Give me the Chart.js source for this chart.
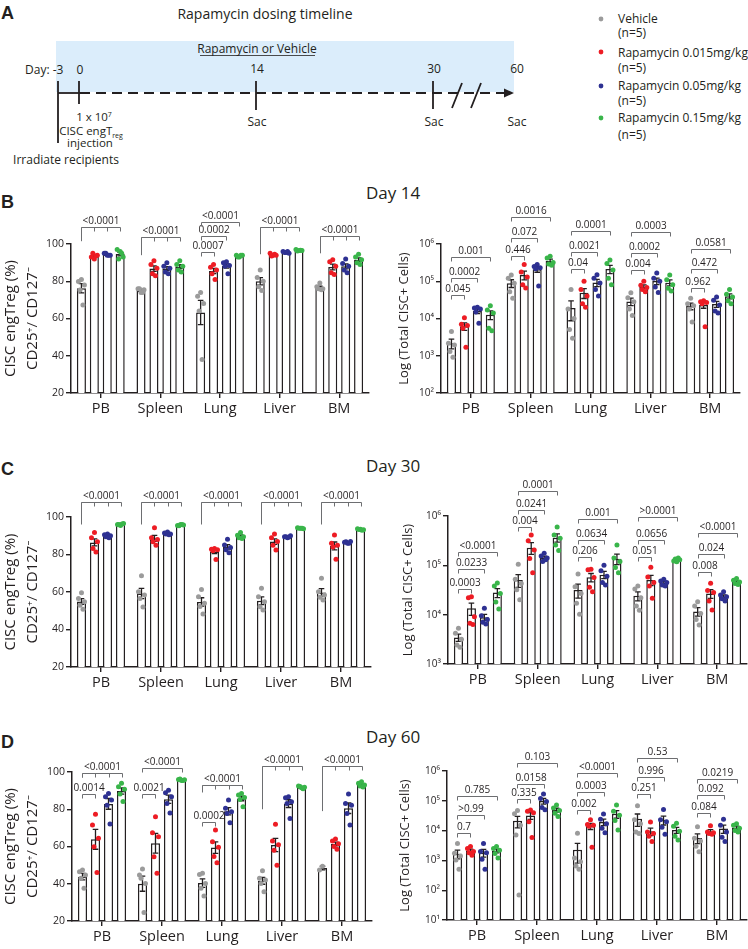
<!DOCTYPE html>
<html>
<head>
<meta charset="utf-8">
<script src="https://cdn.jsdelivr.net/npm/chart.js@4.4.1/dist/chart.umd.min.js"></script>
<style>
  body { margin: 0; background: #fff; }
  #page { position: relative; width: 748px; height: 949px; overflow: hidden; font-family: "Open Sans", "Noto Sans", sans-serif; color: #231f20; }
  .box { position: absolute; }
  #art { position: absolute; left: 0; top: 0; }
  #art text { font-family: "Open Sans", "Noto Sans", sans-serif; fill: #231f20; }
  #art .lbl { font-family: "Liberation Sans", Arial, sans-serif; font-weight: bold; font-size: 18px; }
</style>
</head>
<body>
<div id="page">

<svg id="art" width="748" height="949">
  <!-- panel A : dosing schematic -->
  <text class="lbl" x="1" y="19">A</text>
  <text x="265" y="19" font-size="14" text-anchor="middle">Rapamycin dosing timeline</text>
  <rect x="56" y="41" width="458" height="51" fill="#dbedfb"/>
  <text x="257" y="53" font-size="12" text-anchor="middle">Rapamycin or Vehicle</text>
  <line x1="200" y1="55.5" x2="315" y2="55.5" stroke="#231f20" stroke-width="0.8"/>
  <text x="25" y="74" font-size="12">Day: -3</text>
  <text x="80" y="74" font-size="12" text-anchor="middle">0</text>
  <text x="257" y="73" font-size="12" text-anchor="middle">14</text>
  <text x="434" y="73" font-size="12" text-anchor="middle">30</text>
  <text x="517" y="73" font-size="12" text-anchor="middle">60</text>
  <g stroke="#231f20" stroke-width="1.8" fill="none">
    <line x1="58" y1="93" x2="80" y2="93"/>
    <line x1="80" y1="93" x2="506" y2="93" stroke-dasharray="10 6"/>
    <line x1="58" y1="81" x2="58" y2="143"/>
    <line x1="79" y1="81" x2="79" y2="104"/>
    <line x1="256" y1="81" x2="256" y2="110"/>
    <line x1="433" y1="81" x2="433" y2="109"/>
    <line x1="452" y1="108" x2="462" y2="83"/>
    <line x1="471" y1="108" x2="481" y2="83"/>
  </g>
  <polygon points="514,93 504,88.5 504,97.5" fill="#231f20"/>
  <text x="94" y="121" font-size="11.5" text-anchor="middle">1 x 10<tspan dy="-4" font-size="7">7</tspan></text>
  <text x="91" y="135" font-size="11.5" text-anchor="middle">CISC engT<tspan dy="3" font-size="7">reg</tspan></text>
  <text x="90" y="147" font-size="11.5" text-anchor="middle">injection</text>
  <text x="66" y="164" font-size="12" text-anchor="middle">Irradiate recipients</text>
  <text x="257" y="126" font-size="12" text-anchor="middle">Sac</text>
  <text x="434" y="126" font-size="12" text-anchor="middle">Sac</text>
  <text x="517" y="126" font-size="12" text-anchor="middle">Sac</text>

  <!-- shared legend -->
  <circle cx="601" cy="19" r="2.4" fill="#9b9b9b"/>
  <circle cx="601" cy="52" r="2.4" fill="#ed1c24"/>
  <circle cx="601" cy="86" r="2.4" fill="#2e3192"/>
  <circle cx="601" cy="118" r="2.4" fill="#39b54a"/>
  <text x="618" y="23" font-size="12">Vehicle</text>
  <text x="618" y="37" font-size="12">(n=5)</text>
  <text x="618" y="57" font-size="12">Rapamycin 0.015mg/kg</text>
  <text x="618" y="72" font-size="12">(n=5)</text>
  <text x="618" y="90" font-size="12">Rapamycin 0.05mg/kg</text>
  <text x="618" y="105" font-size="12">(n=5)</text>
  <text x="618" y="122" font-size="12">Rapamycin 0.15mg/kg</text>
  <text x="618" y="139" font-size="12">(n=5)</text>

  <text class="lbl" x="1" y="208">B</text>
  <text x="366" y="199" font-size="17">Day 14</text>
  <text class="lbl" x="1" y="475">C</text>
  <text x="366" y="472" font-size="17">Day 30</text>
  <text class="lbl" x="1" y="748">D</text>
  <text x="366" y="743" font-size="17">Day 60</text>
</svg>

<div class="box" style="left:0;top:175px;width:375px;height:250px"><canvas id="b1"></canvas></div>
<div class="box" style="left:372px;top:175px;width:376px;height:250px"><canvas id="b2"></canvas></div>
<div class="box" style="left:0;top:478px;width:375px;height:221px"><canvas id="c1"></canvas></div>
<div class="box" style="left:372px;top:478px;width:376px;height:218px"><canvas id="c2"></canvas></div>
<div class="box" style="left:0;top:740px;width:375px;height:209px"><canvas id="d1"></canvas></div>
<div class="box" style="left:372px;top:740px;width:376px;height:209px"><canvas id="d2"></canvas></div>

</div>
<script>
// categories and groups
const organs = ['PB', 'Spleen', 'Lung', 'Liver', 'BM'];
const groupNames = ['Vehicle', 'Rapamycin 0.015mg/kg', 'Rapamycin 0.05mg/kg', 'Rapamycin 0.15mg/kg'];

// each array: one list of animal values per organ (PB, Spleen, Lung, Liver, BM)

// Day 14, % CD25+/CD127-
const d14PctVeh  = [[81, 79.8, 78, 75.3, 67.2], [74, 76, 75.5, 76, 74], [74, 72, 68, 64, 38], [86, 82, 80, 77, 75], [79, 77, 76, 76, 75.5]];
const d14PctR015 = [[92, 93, 94, 95, 93.5], [91, 89, 87, 84, 83], [89, 87.5, 86, 84, 81], [94, 95, 94, 93.5, 94.5], [91.6, 90.5, 88, 84.5, 83.6]];
const d14PctR05  = [[94, 95, 94, 95, 94], [90, 88, 87, 85, 84], [90.5, 90, 88.5, 88, 84], [95.5, 96, 95, 95.5, 96], [92, 89.5, 88, 86, 84.5]];
const d14PctR15  = [[96, 97, 93, 92, 95], [91, 89, 88, 86, 85], [93, 94, 94, 93, 94], [96.5, 97, 96.5, 96.3, 96.7], [94.5, 93, 91.5, 90, 89]];

// Day 14, total CISC+ cells
const d14CntVeh  = [[4500, 2150, 1950, 1300, 910], [148000, 120000, 89000, 52000, 35000], [60000, 18000, 10000, 5100, 2950], [49000, 36000, 28000, 18000, 12000], [35000, 25000, 22000, 18000, 8000]];
const d14CntR015 = [[10500, 7000, 6500, 5500, 1700], [282000, 178000, 131000, 81000, 66000], [100000, 60000, 40000, 25000, 20000], [100000, 78000, 68000, 60000, 52000], [30000, 28000, 27000, 25000, 6000]];
const d14CntR05  = [[20000, 19000, 18000, 15000, 7400], [280000, 250000, 230000, 215000, 75000], [150000, 120000, 90000, 60000, 40000], [166000, 120000, 100000, 70000, 50000], [38000, 31000, 23000, 16000, 14000]];
const d14CntR15  = [[22000, 17000, 14000, 5500, 4700], [470000, 420000, 320000, 290000, 270000], [370000, 300000, 200000, 120000, 80000], [148000, 110000, 80000, 65000, 55000], [60000, 45000, 38000, 30000, 25000]];

// Day 30, % CD25+/CD127-
const d30PctVeh  = [[59.6, 56.6, 54.8, 53, 50.8], [68.7, 60.2, 58.4, 56.6, 52], [61.4, 57.5, 54, 52.3, 48.3], [62, 57.5, 54.8, 52.1, 50.4], [67.3, 60.2, 58.4, 57.2, 55.8]];
const d30PctR015 = [[91.8, 89, 86.8, 83.2, 81.4], [94.3, 89, 88, 86.8, 85], [83.2, 82.8, 82.5, 82, 77.4], [91, 89, 87, 85, 82.4], [90.4, 86, 85, 84, 77.5]];
const d30PctR05  = [[91, 90.5, 90, 89.5, 89], [92, 91.5, 91, 91, 90.5], [88.1, 85.1, 83.8, 82.5, 81], [89, 89.5, 90, 89.5, 89.3], [86, 86.5, 87, 86.8, 86]];
const d30PctR15  = [[95.5, 96, 96.5, 96, 96.3], [96, 95.5, 95.8, 95.3, 96], [91.8, 90.3, 89.5, 89, 88.6], [94, 94.3, 93.8, 94, 94], [93.5, 93.8, 93.2, 93.4, 93]];

// Day 30, total CISC+ cells
const d30CntVeh  = [[5300, 4200, 3170, 2430, 2180], [105000, 52000, 43000, 32000, 20000], [67000, 37000, 27000, 17000, 10200], [38000, 33000, 22000, 15000, 12300], [18300, 15000, 10500, 8000, 6200]];
const d30CntR015 = [[23000, 22000, 9100, 6700, 6300], [410000, 316000, 204000, 138000, 71000], [83000, 81000, 57000, 36000, 29000], [91000, 58000, 45000, 38000, 21500], [43500, 31000, 28000, 19000, 12400]];
const d30CntR05  = [[13500, 9500, 8000, 7000, 6500], [175000, 155000, 140000, 120000, 130000], [100000, 78000, 60000, 45000, 40000], [52000, 48000, 45000, 40000, 38000], [29000, 25000, 23000, 21000, 19000]];
const d30CntR15  = [[44000, 38000, 27000, 18000, 13000], [600000, 410000, 355000, 257000, 200000], [257000, 140000, 120000, 90000, 71000], [118000, 122000, 130000, 135000, 140000], [54000, 50000, 46000, 43000, 41000]];

// Day 60, % CD25+/CD127-
const d60PctVeh  = [[47.4, 46.5, 44.7, 42.9, 37.6], [47.9, 44.7, 40.2, 43, 24.5], [45.6, 45, 40.2, 37.6, 33.4], [47, 42.9, 42, 40.2, 35.7], [49.4, 47.4]];
const d60PctR015 = [[77.3, 71.6, 64.4, 59.9, 46.1], [76, 67.4, 65.2, 54.5, 45.6], [68.9, 62.6, 59.6, 54.6, 51.3], [72, 63, 61, 58, 49.9], [64, 63, 61.5, 60, 58.5]];
const d60PctR05  = [[88.5, 86.7, 84.9, 82.2, 72.1], [90.2, 88.8, 86.7, 83.1, 78], [84.9, 80.5, 78.6, 77.7, 72.8], [86.7, 86.2, 84, 83.1, 75.1], [88.2, 83.1, 82.2, 77.7, 71.5]];
const d60PctR15  = [[93.9, 92.1, 90.7, 88.2, 84.1], [95.5, 96, 95.8, 96.2, 95.5], [88.5, 87.6, 86.3, 85.2, 81.4], [91.5, 92.5, 91.8, 92.2, 91], [94.8, 94, 93, 92.5, 92]];

// Day 60, total CISC+ cells
const d60CntVeh  = [[3700, 1730, 1400, 1030, 500], [47000, 37000, 15000, 7100, 69], [8100, 1200, 900, 650, 500], [68000, 23000, 17000, 9000, 8000], [13500, 5500, 4500, 3000, 1950]];
const d60CntR015 = [[2900, 2500, 2000, 1800, 1500], [49000, 45000, 40000, 20000, 5900], [23000, 16000, 15000, 14000, 2750], [19500, 9000, 8000, 6500, 4300], [14500, 9000, 8500, 8000, 7500]];
const d60CntR05  = [[3700, 2000, 1800, 1100, 500], [170000, 120000, 95000, 60000, 50000], [36000, 24000, 17000, 12000, 8500], [51000, 23000, 20000, 13000, 7600], [24000, 15000, 9000, 6000, 4300]];
const d60CntR15  = [[2900, 2500, 2200, 1700, 1200], [72000, 57000, 47000, 38000, 30000], [72000, 45000, 33000, 22000, 10500], [17500, 14000, 9500, 6500, 4800], [17000, 15000, 12000, 10000, 9000]];

// p-value brackets: [organ, from group, to group, level (log10 on log charts), label, comb left-leg end]
const d14PctP = [[0, 0, 3, 109, '<0.0001', 101.5], [1, 0, 3, 104, '<0.0001', 94], [2, 0, 1, 95.9, '0.0007'], [2, 0, 2, 104.5, '0.0002'], [2, 0, 3, 111.6, '<0.0001'], [3, 0, 3, 109, '<0.0001', 94.5], [4, 0, 3, 104.5, '<0.0001', 95]];
const d14CntP = [[0, 0, 1, 4.63, '0.045'], [0, 0, 2, 5.08, '0.0002'], [0, 0, 3, 5.64, '0.001'],
                 [1, 0, 1, 5.68, '0.446'], [1, 0, 2, 6.15, '0.072'], [1, 0, 3, 6.73, '0.0016'],
                 [2, 0, 1, 5.32, '0.04'], [2, 0, 2, 5.79, '0.0021'], [2, 0, 3, 6.35, '0.0001'],
                 [3, 0, 1, 5.30, '0.004'], [3, 0, 2, 5.75, '0.0002'], [3, 0, 3, 6.33, '0.0003'],
                 [4, 0, 1, 4.83, '0.962'], [4, 0, 2, 5.32, '0.472'], [4, 0, 3, 5.86, '0.0581']];
const d30PctP = [[0, 0, 3, 107.8, '<0.0001', 96], [1, 0, 3, 107.8, '<0.0001', 96], [2, 0, 3, 107.8, '<0.0001', 96], [3, 0, 3, 107.8, '<0.0001', 96], [4, 0, 3, 107.8, '<0.0001', 96]];
const d30CntP = [[0, 0, 1, 4.53, '0.0003'], [0, 0, 2, 4.92, '0.0233'], [0, 0, 3, 5.28, '<0.0001'],
                 [1, 0, 1, 5.77, '0.004'], [1, 0, 2, 6.12, '0.0241'], [1, 0, 3, 6.51, '0.0001'],
                 [2, 0, 1, 5.16, '0.206'], [2, 0, 2, 5.51, '0.0634'], [2, 0, 3, 5.93, '0.001'],
                 [3, 0, 1, 5.16, '0.051'], [3, 0, 2, 5.52, '0.0656'], [3, 0, 3, 5.97, '>0.0001'],
                 [4, 0, 1, 4.87, '0.008'], [4, 0, 2, 5.23, '0.024'], [4, 0, 3, 5.66, '<0.0001']];
const d60PctP = [[0, 0, 1, 88, '0.0014'], [0, 0, 3, 99.3, '<0.0001', 97], [1, 0, 1, 88, '0.0021'], [1, 0, 3, 102.3, '<0.0001'],
                 [2, 0, 1, 73.3, '0.0002'], [2, 0, 3, 93, '<0.0001', 89], [3, 0, 3, 103.2, '<0.0001', 80], [4, 0, 3, 103.2, '<0.0001', 79]];
const d60CntP = [[0, 0, 1, 3.91, '0.7'], [0, 0, 2, 4.52, '>0.99'], [0, 0, 3, 5.16, '0.785'],
                 [1, 0, 1, 5.05, '0.335'], [1, 0, 2, 5.56, '0.0158'], [1, 0, 3, 6.28, '0.103'],
                 [2, 0, 1, 4.69, '0.002'], [2, 0, 2, 5.31, '0.0003'], [2, 0, 3, 5.92, '<0.0001'],
                 [3, 0, 1, 5.22, '0.251'], [3, 0, 2, 5.79, '0.996'], [3, 0, 3, 6.42, '0.53'],
                 [4, 0, 1, 4.58, '0.084'], [4, 0, 2, 5.19, '0.092'], [4, 0, 3, 5.72, '0.0219']];

// styling
const ink = '#231f20';
const dotColors = ['#9b9b9b', '#ed1c24', '#2e3192', '#39b54a'];
const JIT = [0, -3, 3, -1.5, 1.5];   // horizontal spread of the animal dots, px
const SUP = ['⁰', '¹', '²', '³', '⁴', '⁵', '⁶'];

Chart.defaults.font.family = '"Open Sans", "Noto Sans", "DejaVu Sans", sans-serif';
Chart.defaults.color = ink;

function mean(v) { return v.reduce((a, b) => a + b, 0) / v.length; }
function sem(v) {
  const m = mean(v);
  const sd = Math.sqrt(v.reduce((a, b) => a + (b - m) * (b - m), 0) / (v.length - 1));
  return sd / Math.sqrt(v.length);
}

// mean +/- SEM whiskers on each bar
const errorBars = {
  id: 'errorBars',
  afterDatasetDraw(chart, args) {
    const ds = chart.data.datasets[args.index];
    if (!ds.sem) return;
    const ys = chart.scales.y, ctx = chart.ctx;
    ctx.save();
    ctx.strokeStyle = ink;
    ctx.lineWidth = 1.3;
    args.meta.data.forEach((bar, i) => {
      const m = ds.data[i], s = ds.sem[i];
      const top = ys.getPixelForValue(m + s);
      const bot = (m - s) > ys.min ? ys.getPixelForValue(m - s) : ys.bottom;
      ctx.beginPath();
      ctx.moveTo(bar.x, top); ctx.lineTo(bar.x, bot);
      ctx.moveTo(bar.x - 2.8, top); ctx.lineTo(bar.x + 2.8, top);
      ctx.moveTo(bar.x - 2.8, bot); ctx.lineTo(bar.x + 2.8, bot);
      ctx.stroke();
    });
    ctx.restore();
  }
};

// individual animals, drawn over their own bar
const animalDots = {
  id: 'animalDots',
  afterDatasetsDraw(chart) {
    const ys = chart.scales.y, ctx = chart.ctx;
    ctx.save();
    chart.data.datasets.forEach((ds, j) => {
      const meta = chart.getDatasetMeta(j);
      ctx.fillStyle = dotColors[j];
      ds.dots.forEach((vals, i) => {
        const bx = meta.data[i].x;
        vals.forEach((v, k) => {
          ctx.beginPath();
          ctx.arc(bx + JIT[k], ys.getPixelForValue(v), 2.5, 0, Math.PI * 2);
          ctx.fill();
        });
      });
    });
    ctx.restore();
  }
};

function bracketPlugin(list, isLog) {
  return {
    id: 'brackets',
    afterDraw(chart) {
      const ctx = chart.ctx, ys = chart.scales.y;
      ctx.save();
      ctx.strokeStyle = '#6d6e71';
      ctx.lineWidth = 1;
      ctx.fillStyle = ink;
      ctx.font = '10px "Open Sans", "Noto Sans", sans-serif';
      ctx.textAlign = 'center';
      ctx.textBaseline = 'bottom';
      list.forEach(([g, a, b, lv, label, legTo]) => {
        const px = k => Math.round(chart.getDatasetMeta(k).data[g].x) + 0.5;
        const y = Math.round(ys.getPixelForValue(isLog ? Math.pow(10, lv) : lv)) + 0.5;
        const x1 = px(a), x2 = px(b);
        ctx.beginPath();
        ctx.moveTo(x1, y); ctx.lineTo(x2, y);
        const legs = legTo !== undefined ? [0, 1, 2, 3].filter(k => k >= a && k <= b) : [a, b];
        legs.forEach(k => { ctx.moveTo(px(k), y); ctx.lineTo(px(k), y + 4); });
        if (legTo !== undefined) { ctx.moveTo(x1, y); ctx.lineTo(x1, ys.getPixelForValue(legTo)); }
        ctx.stroke();
        ctx.fillText(label, (x1 + x2) / 2, y - 1);
      });
      ctx.restore();
    }
  };
}

function makeChart(id, groups, brackets, opt) {
  const datasets = groups.map((g, j) => ({
    label: groupNames[j], data: g.map(mean), sem: g.map(sem), dots: g,
    backgroundColor: '#fff', borderColor: ink, borderWidth: 1.5,
    categoryPercentage: 0.867, barPercentage: 0.7
  }));

  const axisGrid = { drawOnChartArea: false, tickLength: 5, color: ink, lineWidth: 1.4 };
  let y;
  if (opt.log) {
    y = {
      type: 'logarithmic', min: opt.min, max: 1e6,
      afterBuildTicks: s => { const t = []; for (let v = opt.min; v <= 1e6; v *= 10) t.push({ value: v }); s.ticks = t; },
      ticks: { font: { size: 10 }, padding: 2, callback: v => '10' + SUP[Math.round(Math.log10(v))] },
      grid: axisGrid, border: { color: ink, width: 1.5 },
      title: { display: true, text: 'Log (Total CISC+ Cells)', font: { size: 13, lineHeight: 1.2 }, padding: { top: opt.tp, bottom: 0 } },
      afterFit: s => { s.width = opt.yw; }
    };
  } else {
    y = {
      type: 'linear', min: 20, max: 100,
      ticks: { stepSize: 20, font: { size: 10.5 }, padding: 2 },
      grid: axisGrid, border: { color: ink, width: 1.5 },
      title: { display: true, text: ['CISC engTreg (%)', 'CD25⁺/ CD127⁻'], font: { size: 15, lineHeight: 1.45 }, padding: { top: 0, bottom: 0 } },
      afterFit: s => { s.width = opt.yw; }
    };
  }

  new Chart(document.getElementById(id), {
    type: 'bar',
    data: { labels: organs, datasets: datasets },
    options: {
      responsive: true, maintainAspectRatio: false, animation: false, events: [],
      layout: { padding: { top: opt.pt, right: opt.pr, left: 0, bottom: 0 } },
      plugins: { legend: { display: false }, tooltip: { enabled: false } },
      scales: {
        x: {
          type: 'category', offset: true,
          grid: Object.assign({ offset: false }, axisGrid), border: { color: ink, width: 1.5 },
          ticks: { font: { size: 14.5 }, padding: 2, maxRotation: 0, autoSkip: false },
          afterFit: s => { s.height = opt.xh; }
        },
        y: y
      }
    },
    plugins: [errorBars, animalDots, bracketPlugin(brackets, opt.log)]
  });
}

makeChart('b1', [d14PctVeh, d14PctR015, d14PctR05, d14PctR15], d14PctP, { yw: 71, pt: 69, pr: 6, xh: 32 });
makeChart('b2', [d14CntVeh, d14CntR015, d14CntR05, d14CntR15], d14CntP, { log: true, min: 1e2, tp: 24, yw: 69, pt: 69, pr: 8, xh: 32 });
makeChart('c1', [d30PctVeh, d30PctR015, d30PctR05, d30PctR15], d30PctP, { yw: 71, pt: 39, pr: 4, xh: 32 });
makeChart('c2', [d30CntVeh, d30CntR015, d30CntR05, d30CntR15], d30CntP, { log: true, min: 1e3, tp: 28, yw: 76, pt: 38, pr: 1, xh: 32 });
makeChart('d1', [d60PctVeh, d60PctR015, d60PctR05, d60PctR15], d60PctP, { yw: 72, pt: 32, pr: 3, xh: 28 });
makeChart('d2', [d60CntVeh, d60CntR015, d60CntR05, d60CntR15], d60CntP, { log: true, min: 1e1, tp: 25, yw: 75, pt: 31, pr: 1, xh: 29 });
</script>
</body>
</html>
